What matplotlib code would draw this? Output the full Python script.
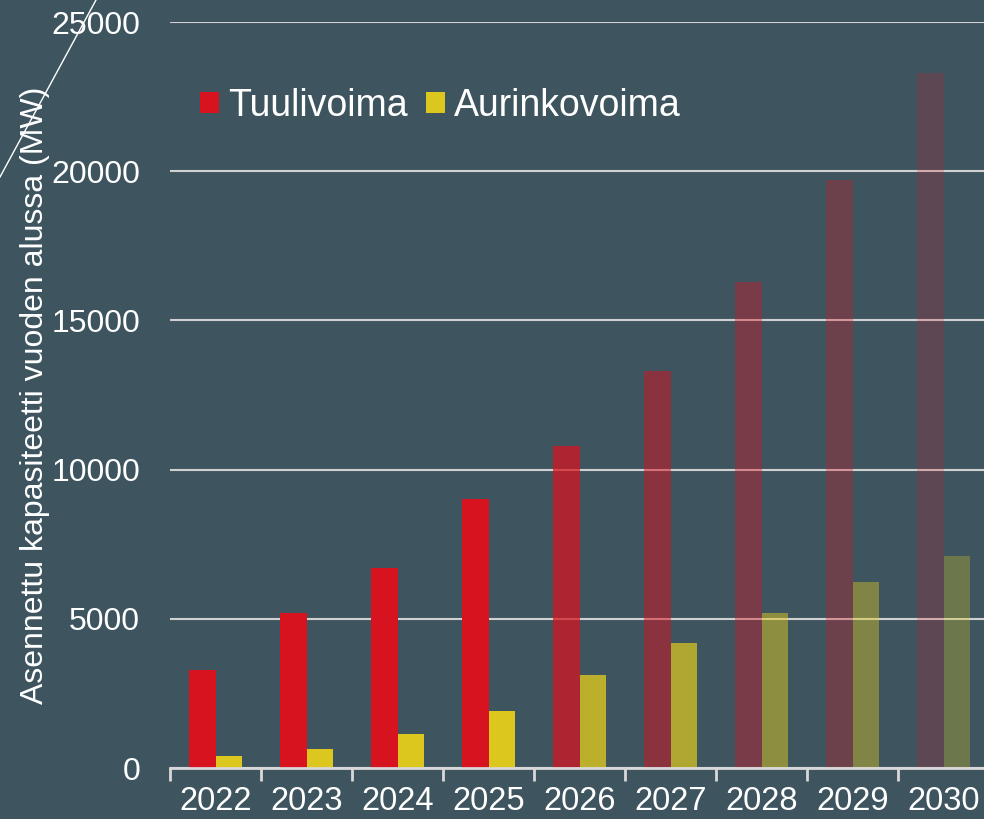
import matplotlib
matplotlib.use("Agg")
import matplotlib.pyplot as plt
import numpy as np
from matplotlib.patches import Patch
from matplotlib.lines import Line2D

years = ["2022", "2023", "2024", "2025", "2026", "2027", "2028", "2029", "2030"]
tuulivoima = [3300, 5200, 6700, 9000, 10800, 13300, 16300, 19700, 23300]
aurinkovoima = [390, 620, 1130, 1900, 3100, 4200, 5200, 6230, 7100]
yticks = [0, 5000, 10000, 15000, 20000, 25000]

bg = "#3E5560"
red = "#D7131F"
yellow = "#DCC71F"
red_alpha = [1, 1, 1, 1, 0.72, 0.5, 0.38, 0.3, 0.2]
yel_alpha = [1, 1, 1, 1, 0.8, 0.72, 0.5, 0.42, 0.3]

plt.rcParams['font.family'] = ['Liberation Sans', 'DejaVu Sans']

W, H = 984, 819
fig = plt.figure(figsize=(W / 100, H / 100), dpi=100, facecolor=bg)
axw = (989 - 170)
ax = fig.add_axes([170 / W, 1 - 768 / H, axw / W, (768 - 22) / H])
ax.set_facecolor(bg)

x = np.arange(len(years))
bw = 0.286
for i in x:
    ax.bar(i - bw / 2, tuulivoima[i], width=bw, color=red, alpha=red_alpha[i], zorder=2, linewidth=0)
    ax.bar(i + bw / 2, aurinkovoima[i], width=bw, color=yellow, alpha=yel_alpha[i], zorder=2, linewidth=0)

ax.set_ylim(0, 25000)
ax.set_xlim(-0.5, len(years) - 0.5)
ax.set_yticks(yticks)
ax.set_yticklabels([str(v) for v in yticks])
ax.yaxis.grid(True, color="#D0D0D0", linewidth=1.5, zorder=0)
ax.set_axisbelow(True)

for s in ["top", "right", "left"]:
    ax.spines[s].set_visible(False)
ax.spines["bottom"].set_color("#D8D8D8")
ax.spines["bottom"].set_linewidth(2)
ax.spines["bottom"].set_zorder(3)

ax.set_xticks(x)
ax.set_xticklabels(years)
ax.set_xticks(np.arange(-0.5, len(years), 1), minor=True)
ax.tick_params(axis="x", which="major", length=0, pad=13, labelsize=23.5, labelcolor="white")
ax.tick_params(axis="x", which="minor", length=9, width=2, color="#D8D8D8", direction="out")
ax.tick_params(axis="y", length=0, pad=21.5, labelsize=23, labelcolor="white")

ax.set_ylabel("Asennettu kapasiteetti vuoden alussa (MW)", fontsize=23, color="white")
ax.yaxis.set_label_coords((50 - 170) / axw, 0.5)

handles = [Patch(facecolor=red, edgecolor="none"), Patch(facecolor=yellow, edgecolor="none")]
leg = ax.legend(handles, ["Tuulivoima", "Aurinkovoima"], loc="upper left",
                bbox_to_anchor=((200 - 170) / axw, 1 - (88 - 22) / (768 - 22)),
                ncol=2, frameon=False, fontsize=27, handlelength=0.5, handleheight=0.5,
                handletextpad=0.24, columnspacing=0.5, borderaxespad=0, borderpad=0)
for t in leg.get_texts():
    t.set_color("white")

fig.add_artist(Line2D([96 / W, 0 / W], [1, 1 - 177 / H], transform=fig.transFigure,
                      color="white", linewidth=1))

fig.savefig("out.png", dpi=100, facecolor=bg)
